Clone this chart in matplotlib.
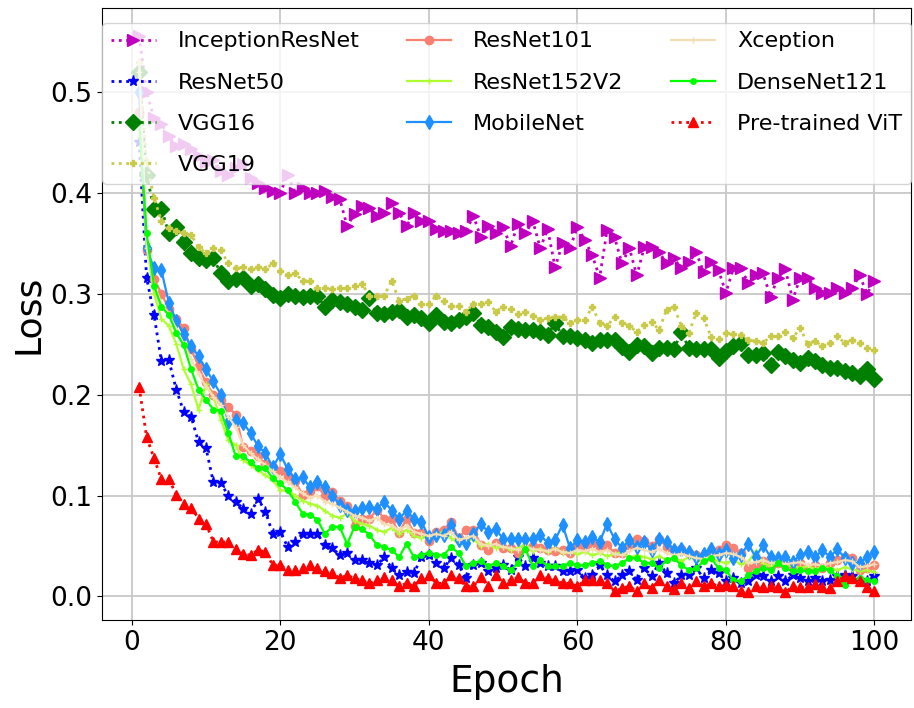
import numpy as np
import matplotlib
matplotlib.use('Agg')
import matplotlib.pyplot as plt

# loss values, epochs 1..100
epochs = list(range(1, 101))

inception = [0.555, 0.500, 0.474, 0.468, 0.456, 0.446, 0.448, 0.443, 0.436, 0.430,
             0.432, 0.422, 0.418, 0.425, 0.428, 0.415, 0.410, 0.405, 0.402, 0.400,
             0.418, 0.400, 0.405, 0.400, 0.400, 0.402, 0.396, 0.394, 0.367, 0.379,
             0.387, 0.385, 0.377, 0.380, 0.390, 0.380, 0.367, 0.380, 0.372, 0.372,
             0.364, 0.362, 0.362, 0.360, 0.362, 0.377, 0.356, 0.367, 0.360, 0.366,
             0.347, 0.369, 0.360, 0.372, 0.345, 0.364, 0.326, 0.350, 0.345, 0.366,
             0.353, 0.338, 0.316, 0.363, 0.356, 0.330, 0.345, 0.318, 0.346, 0.346,
             0.341, 0.330, 0.335, 0.325, 0.331, 0.341, 0.321, 0.331, 0.323, 0.301,
             0.325, 0.325, 0.311, 0.318, 0.320, 0.297, 0.316, 0.324, 0.294, 0.316,
             0.316, 0.306, 0.301, 0.301, 0.306, 0.301, 0.306, 0.318, 0.300, 0.313]

resnet50 = [0.450, 0.316, 0.279, 0.233, 0.234, 0.205, 0.183, 0.178, 0.153, 0.147,
            0.113, 0.112, 0.100, 0.094, 0.087, 0.082, 0.097, 0.084, 0.062, 0.064,
            0.049, 0.054, 0.062, 0.062, 0.062, 0.051, 0.048, 0.041, 0.043, 0.036,
            0.036, 0.033, 0.031, 0.039, 0.028, 0.021, 0.024, 0.023, 0.039, 0.041,
            0.033, 0.028, 0.038, 0.031, 0.018, 0.031, 0.033, 0.025, 0.028, 0.031,
            0.026, 0.039, 0.030, 0.038, 0.033, 0.030, 0.030, 0.025, 0.025, 0.026,
            0.018, 0.021, 0.031, 0.021, 0.015, 0.021, 0.025, 0.016, 0.028, 0.020,
            0.033, 0.023, 0.013, 0.021, 0.021, 0.028, 0.018, 0.026, 0.023, 0.015,
            0.018, 0.013, 0.015, 0.021, 0.020, 0.015, 0.020, 0.015, 0.021, 0.018,
            0.015, 0.018, 0.015, 0.016, 0.020, 0.021, 0.020, 0.016, 0.015, 0.020]

vgg16 = [0.520, 0.418, 0.384, 0.384, 0.360, 0.366, 0.351, 0.340, 0.335, 0.333,
         0.335, 0.320, 0.313, 0.315, 0.316, 0.308, 0.310, 0.305, 0.299, 0.296,
         0.300, 0.298, 0.297, 0.298, 0.298, 0.287, 0.294, 0.292, 0.290, 0.287,
         0.284, 0.296, 0.281, 0.280, 0.282, 0.284, 0.277, 0.279, 0.276, 0.271,
         0.279, 0.272, 0.271, 0.274, 0.277, 0.281, 0.269, 0.267, 0.262, 0.257,
         0.267, 0.265, 0.264, 0.264, 0.262, 0.259, 0.271, 0.258, 0.258, 0.256,
         0.254, 0.251, 0.254, 0.254, 0.254, 0.247, 0.242, 0.249, 0.248, 0.241,
         0.246, 0.246, 0.245, 0.262, 0.246, 0.245, 0.245, 0.245, 0.236, 0.243,
         0.248, 0.251, 0.239, 0.239, 0.241, 0.229, 0.242, 0.238, 0.234, 0.231,
         0.236, 0.233, 0.229, 0.226, 0.226, 0.223, 0.221, 0.218, 0.225, 0.215]

vgg19 = [0.530, 0.430, 0.395, 0.372, 0.365, 0.362, 0.360, 0.358, 0.346, 0.340,
         0.345, 0.343, 0.330, 0.325, 0.326, 0.324, 0.326, 0.324, 0.330, 0.322,
         0.318, 0.320, 0.313, 0.313, 0.306, 0.306, 0.305, 0.306, 0.306, 0.308,
         0.310, 0.298, 0.298, 0.298, 0.313, 0.293, 0.295, 0.298, 0.290, 0.290,
         0.298, 0.293, 0.288, 0.288, 0.282, 0.290, 0.290, 0.292, 0.282, 0.287,
         0.285, 0.280, 0.282, 0.278, 0.274, 0.276, 0.277, 0.277, 0.271, 0.274,
         0.274, 0.287, 0.271, 0.268, 0.277, 0.271, 0.268, 0.262, 0.269, 0.272,
         0.264, 0.284, 0.287, 0.268, 0.261, 0.281, 0.276, 0.257, 0.255, 0.261,
         0.260, 0.259, 0.254, 0.253, 0.251, 0.258, 0.258, 0.262, 0.256, 0.266,
         0.250, 0.253, 0.248, 0.251, 0.258, 0.251, 0.254, 0.251, 0.246, 0.244]

resnet101 = [0.480, 0.343, 0.315, 0.300, 0.285, 0.275, 0.266, 0.245, 0.228, 0.212,
             0.200, 0.195, 0.188, 0.180, 0.148, 0.144, 0.139, 0.131, 0.128, 0.124,
             0.119, 0.114, 0.101, 0.104, 0.109, 0.100, 0.103, 0.095, 0.090, 0.070,
             0.077, 0.077, 0.086, 0.077, 0.077, 0.063, 0.077, 0.063, 0.063, 0.055,
             0.064, 0.066, 0.074, 0.058, 0.066, 0.066, 0.051, 0.046, 0.053, 0.048,
             0.048, 0.043, 0.048, 0.050, 0.048, 0.046, 0.045, 0.046, 0.043, 0.051,
             0.048, 0.053, 0.048, 0.051, 0.043, 0.043, 0.051, 0.057, 0.055, 0.050,
             0.057, 0.049, 0.046, 0.047, 0.043, 0.041, 0.039, 0.044, 0.046, 0.051,
             0.048, 0.043, 0.028, 0.030, 0.035, 0.030, 0.033, 0.031, 0.031, 0.033,
             0.028, 0.031, 0.028, 0.033, 0.036, 0.039, 0.038, 0.026, 0.028, 0.031]

resnet152v2 = [0.520, 0.350, 0.300, 0.275, 0.268, 0.250, 0.225, 0.210, 0.185, 0.210,
               0.198, 0.175, 0.155, 0.150, 0.135, 0.130, 0.125, 0.120, 0.115, 0.105,
               0.105, 0.100, 0.095, 0.092, 0.090, 0.085, 0.080, 0.078, 0.082, 0.075,
               0.072, 0.070, 0.066, 0.064, 0.068, 0.062, 0.066, 0.060, 0.058, 0.062,
               0.060, 0.065, 0.058, 0.052, 0.055, 0.057, 0.050, 0.052, 0.048, 0.050,
               0.046, 0.048, 0.052, 0.045, 0.047, 0.044, 0.048, 0.043, 0.045, 0.042,
               0.044, 0.041, 0.043, 0.040, 0.042, 0.044, 0.038, 0.041, 0.039, 0.037,
               0.040, 0.036, 0.038, 0.035, 0.039, 0.036, 0.034, 0.037, 0.035, 0.033,
               0.036, 0.032, 0.034, 0.045, 0.033, 0.030, 0.032, 0.029, 0.031, 0.028,
               0.030, 0.027, 0.029, 0.028, 0.026, 0.029, 0.027, 0.025, 0.026, 0.024]

mobilenet = [0.500, 0.345, 0.325, 0.323, 0.291, 0.273, 0.260, 0.248, 0.238, 0.225,
             0.213, 0.200, 0.173, 0.175, 0.172, 0.162, 0.149, 0.142, 0.128, 0.141,
             0.126, 0.116, 0.118, 0.108, 0.113, 0.108, 0.100, 0.091, 0.086, 0.085,
             0.088, 0.089, 0.087, 0.094, 0.085, 0.077, 0.085, 0.077, 0.074, 0.059,
             0.061, 0.061, 0.071, 0.056, 0.053, 0.062, 0.072, 0.064, 0.067, 0.057,
             0.057, 0.057, 0.057, 0.057, 0.061, 0.053, 0.056, 0.071, 0.048, 0.056,
             0.054, 0.059, 0.054, 0.072, 0.057, 0.048, 0.056, 0.049, 0.054, 0.046,
             0.057, 0.054, 0.046, 0.047, 0.044, 0.039, 0.042, 0.047, 0.042, 0.046,
             0.038, 0.041, 0.052, 0.039, 0.051, 0.039, 0.038, 0.039, 0.034, 0.041,
             0.044, 0.039, 0.046, 0.039, 0.047, 0.038, 0.033, 0.033, 0.039, 0.044]

xception = [0.530, 0.345, 0.310, 0.290, 0.280, 0.265, 0.250, 0.235, 0.220, 0.208,
            0.198, 0.190, 0.178, 0.168, 0.150, 0.142, 0.136, 0.130, 0.124, 0.118,
            0.113, 0.108, 0.102, 0.098, 0.100, 0.094, 0.092, 0.088, 0.084, 0.080,
            0.078, 0.075, 0.078, 0.072, 0.070, 0.066, 0.070, 0.064, 0.062, 0.060,
            0.062, 0.060, 0.064, 0.056, 0.058, 0.060, 0.052, 0.050, 0.052, 0.049,
            0.048, 0.046, 0.049, 0.047, 0.046, 0.045, 0.047, 0.044, 0.043, 0.046,
            0.045, 0.047, 0.044, 0.046, 0.042, 0.041, 0.045, 0.048, 0.046, 0.044,
            0.047, 0.043, 0.041, 0.042, 0.040, 0.038, 0.037, 0.040, 0.041, 0.043,
            0.042, 0.039, 0.033, 0.034, 0.036, 0.033, 0.034, 0.032, 0.033, 0.034,
            0.031, 0.032, 0.030, 0.033, 0.034, 0.036, 0.035, 0.029, 0.030, 0.032]

densenet121 = [0.470, 0.360, 0.308, 0.287, 0.279, 0.261, 0.249, 0.225, 0.205, 0.195,
               0.185, 0.184, 0.162, 0.139, 0.139, 0.133, 0.127, 0.127, 0.117, 0.112,
               0.105, 0.094, 0.082, 0.081, 0.076, 0.062, 0.069, 0.069, 0.052, 0.069,
               0.067, 0.061, 0.051, 0.049, 0.046, 0.039, 0.052, 0.039, 0.041, 0.043,
               0.041, 0.041, 0.049, 0.043, 0.030, 0.033, 0.035, 0.030, 0.033, 0.030,
               0.026, 0.033, 0.047, 0.030, 0.036, 0.030, 0.030, 0.030, 0.033, 0.031,
               0.031, 0.033, 0.035, 0.031, 0.030, 0.033, 0.038, 0.038, 0.033, 0.033,
               0.028, 0.036, 0.038, 0.031, 0.026, 0.028, 0.035, 0.038, 0.028, 0.026,
               0.016, 0.015, 0.021, 0.025, 0.028, 0.026, 0.033, 0.028, 0.025, 0.026,
               0.025, 0.025, 0.028, 0.026, 0.020, 0.011, 0.016, 0.018, 0.016, 0.015]

vit = [0.208, 0.158, 0.137, 0.116, 0.116, 0.101, 0.092, 0.088, 0.077, 0.072,
       0.054, 0.054, 0.054, 0.047, 0.042, 0.041, 0.046, 0.044, 0.031, 0.031,
       0.026, 0.026, 0.028, 0.031, 0.028, 0.025, 0.023, 0.018, 0.021, 0.018,
       0.016, 0.013, 0.016, 0.019, 0.016, 0.010, 0.013, 0.010, 0.018, 0.021,
       0.013, 0.013, 0.021, 0.018, 0.010, 0.010, 0.019, 0.010, 0.021, 0.013,
       0.016, 0.019, 0.013, 0.013, 0.021, 0.018, 0.016, 0.013, 0.013, 0.010,
       0.016, 0.016, 0.016, 0.013, 0.005, 0.008, 0.010, 0.005, 0.013, 0.008,
       0.016, 0.010, 0.007, 0.013, 0.008, 0.015, 0.010, 0.013, 0.010, 0.011,
       0.010, 0.005, 0.004, 0.010, 0.009, 0.010, 0.009, 0.004, 0.010, 0.009,
       0.009, 0.012, 0.009, 0.008, 0.015, 0.020, 0.018, 0.015, 0.009, 0.005]

# (label, values, color, linestyle, marker, markersize)
series = [
    ('InceptionResNet', inception, 'm', ':', '>', 8),
    ('ResNet50', resnet50, 'b', ':', '*', 8),
    ('VGG16', vgg16, 'g', ':', 'D', 8),
    ('VGG19', vgg19, '#c9c94a', ':', 'P', 5),
    ('ResNet101', resnet101, 'salmon', '-', 'o', 6),
    ('ResNet152V2', resnet152v2, 'greenyellow', '-', '+', 5),
    ('MobileNet', mobilenet, 'dodgerblue', '-', 'd', 7),
    ('Xception', xception, 'wheat', '-', '+', 5),
    ('DenseNet121', densenet121, 'lime', '-', '.', 8),
    ('Pre-trained ViT', vit, 'red', ':', '^', 7),
]

fig, ax = plt.subplots(figsize=(9.14, 7.08), dpi=100)
for label, vals, col, ls, mk, ms in series:
    lw = 2 if ls == ':' else 1.6
    ax.plot(epochs, vals, color=col, linestyle=ls, linewidth=lw,
            marker=mk, markersize=ms, label=label)

ax.grid(True, color='#c8c8c8', linewidth=1.3)
ax.set_xlabel('Epoch', fontsize=27, labelpad=6)
ax.set_ylabel('Loss', fontsize=26)
ax.tick_params(labelsize=19)
ax.set_xticks([0, 20, 40, 60, 80, 100])
ax.set_yticks([0.0, 0.1, 0.2, 0.3, 0.4, 0.5])

ax.legend(loc='upper left', ncol=3, mode='expand', fontsize=16,
          bbox_to_anchor=(0.0, 0.0, 1.0, 0.977), borderaxespad=0,
          labelspacing=0.95, handletextpad=1.0)

fig.subplots_adjust(left=0.112, right=0.997, bottom=0.124, top=0.988)
fig.savefig('out.png', dpi=100)
